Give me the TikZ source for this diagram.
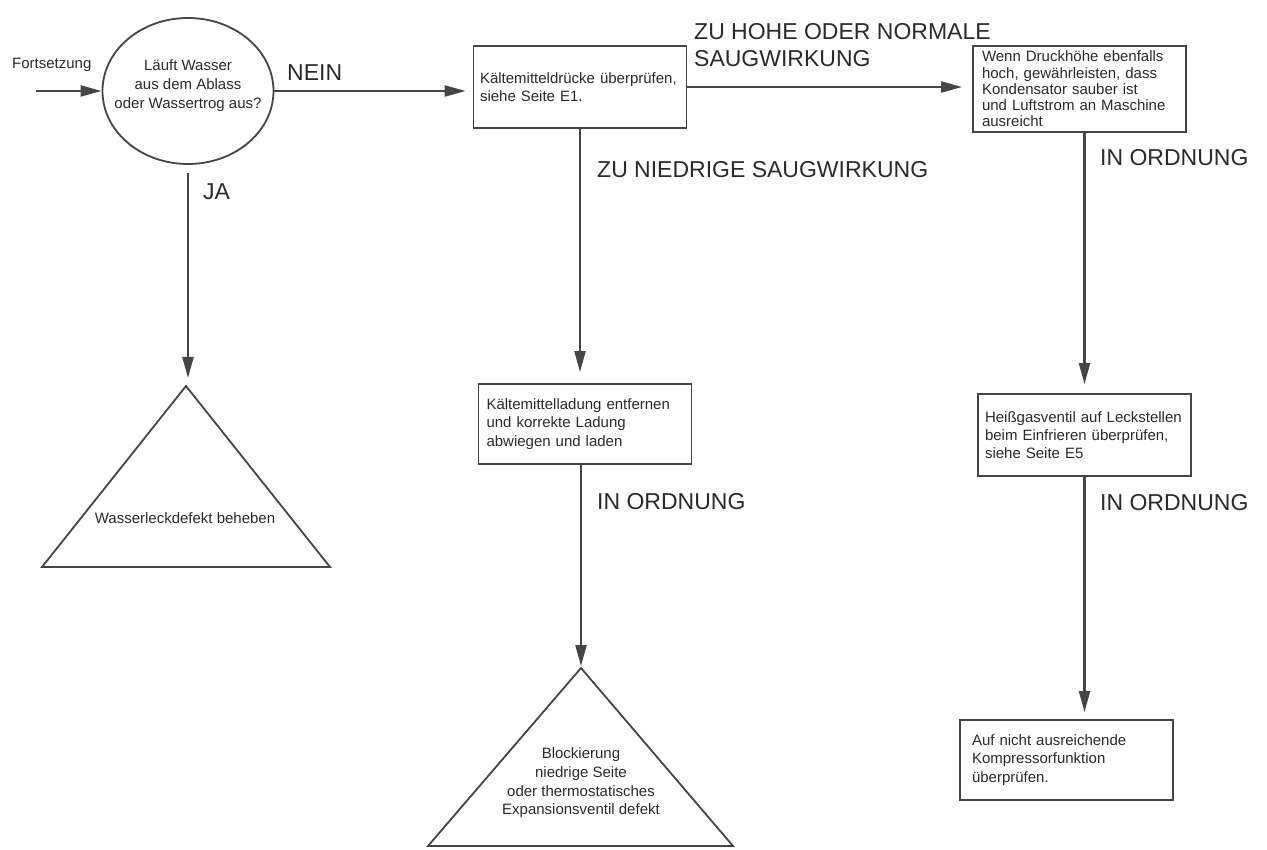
\documentclass[tikz,border=0pt]{standalone}
\usepackage{fontspec}
\setmainfont{Liberation Sans}
\usetikzlibrary{arrows.meta,shapes.geometric}
\definecolor{ink}{HTML}{454545}
\definecolor{txt}{HTML}{2A2A2A}

\begin{document}
\begin{tikzpicture}[x=1pt,y=-1pt,
  small/.style={font=\fontsize{15}{18}\selectfont, text=txt},
  big/.style={font=\fontsize{23}{27}\selectfont, text=txt, inner sep=0pt},
  stepbox/.style={draw=ink, line width=1.8pt, rectangle, minimum width=213pt,
    inner xsep=7pt, inner ysep=0pt, text width=199pt, align=left, small},
  outline/.style={draw=ink, line width=1.8pt, line join=miter},
  conn/.style={draw=ink, line width=2.2pt, -{Triangle[length=21pt,width=11pt]}},
]
\useasboundingbox (0,0) rectangle (1267,850);
\fill[white] (0,0) rectangle (1267,850);

% decision: water leaking?
\node[ellipse, outline, minimum width=171pt, minimum height=146pt, inner sep=0pt] (q) at (188,91) {};
\node[small, align=center, font=\fontsize{15}{19}\selectfont] (qtxt) at ([yshift=5pt]q.center)
  {Läuft Wasser\\aus dem Ablass\\oder Wassertrog aus?};

% process boxes
\node[stepbox, minimum height=82pt, text width=200pt, inner xsep=6pt] (b1) at (580,87)
  {Kältemitteldrücke überprüfen,\\siehe Seite E1.};
\node[stepbox, minimum height=86pt, text width=195pt, inner xsep=9pt,
  font=\fontsize{15}{16.3}\selectfont] (b2) at (1079.5,89)
  {Wenn Druckhöhe ebenfalls\\hoch, gewährleisten, dass\\Kondensator sauber ist\\und Luftstrom an Maschine\\ausreicht};
\node[stepbox, minimum height=80pt, text width=197pt, inner xsep=8pt,
  font=\fontsize{15}{18.5}\selectfont] (b3) at (585,424)
  {Kältemittelladung entfernen\\und korrekte Ladung\\abwiegen und laden};
\node[stepbox, minimum height=82pt] (b4) at (1084.5,435)
  {Heißgasventil auf Leckstellen\\beim Einfrieren überprüfen,\\siehe Seite E5};
\node[stepbox, minimum height=80pt, text width=189pt, inner xsep=12pt,
  font=\fontsize{15}{18.5}\selectfont] (b5) at (1066.5,760)
  {Auf nicht ausreichende\\Kompressorfunktion\\überprüfen.};

% end states (triangles)
\coordinate (t1top) at (186,386);
\coordinate (t1l) at (42,567);
\coordinate (t1r) at (330,567);
\draw[outline] (t1top) -- (t1r) -- (t1l) -- cycle;
\node[small] (t1txt) at (185,518) {Wasserleckdefekt beheben};

\coordinate (t2top) at (581,668);
\coordinate (t2l) at (428,846);
\coordinate (t2r) at (733,846);
\draw[outline] (t2top) -- (t2r) -- (t2l) -- cycle;
\node[small, align=center, font=\fontsize{15}{18.7}\selectfont] (t2txt) at (581,783)
  {Blockierung\\niedrige Seite\\oder thermostatisches\\Expansionsventil defekt};

% entry
\coordinate (start) at (36,91);
\node[small, anchor=base west, inner sep=0pt] (fort) at (12,69) {Fortsetzung};

% connectors
\draw[conn] (start) -- (q.west);
\draw[conn, shorten >=7pt] (q.east) -- (q.east -| b1.west);
\draw[conn, shorten <=8pt, shorten >=8pt] (q.south) -- (q.south |- t1top);
\draw[conn, shorten >=10pt] (b1.east) -- (b1.east -| b2.west);
\draw[conn, shorten >=11pt] (b1.south) -- (b1.south |- b3.north);
\draw[conn, shorten >=2pt] (b3.south -| t2top) -- (t2top);
\draw[conn, shorten >=9pt] (b2.south -| b4.north) -- (b4.north);
\draw[conn, shorten >=7pt] (b4.south) -- (b4.south |- b5.north);

% branch labels
\node[big, anchor=west] (lnein) at (287,73) {NEIN};
\node[big, anchor=west] (lja) at (203,192) {JA};
\node[big, anchor=west, align=left] (lhigh) at (694,45) {ZU HOHE ODER NORMALE\\SAUGWIRKUNG};
\node[big, anchor=west] (llow) at (597,170) {ZU NIEDRIGE SAUGWIRKUNG};
\node[big, anchor=west] (lok1) at (1100,158) {IN ORDNUNG};
\node[big, anchor=west] (lok2) at (597,502) {IN ORDNUNG};
\node[big, anchor=west] (lok3) at (1100,503) {IN ORDNUNG};
\end{tikzpicture}
\end{document}
